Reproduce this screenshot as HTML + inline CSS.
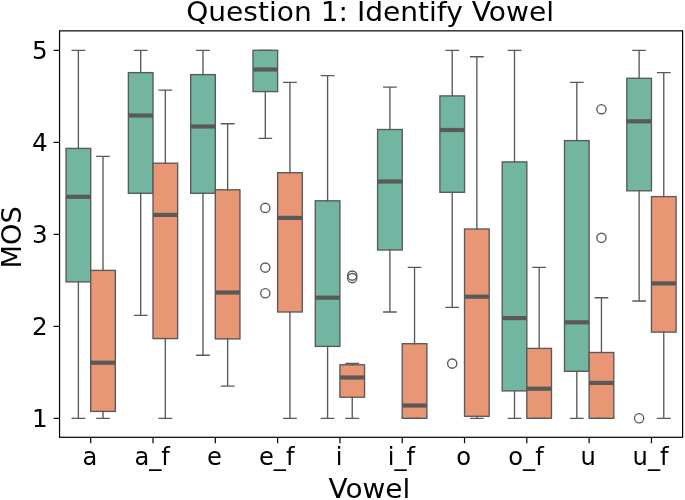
<!DOCTYPE html>
<html lang="en"><head><meta charset="utf-8"><title>Question 1: Identify Vowel</title>
<style>html,body{margin:0;padding:0;background:#fff;overflow:hidden}svg{display:block}text{font-family:"DejaVu Sans","Liberation Sans",sans-serif;fill:#000}</style></head><body>
<svg width="685" height="500" viewBox="0 0 685 500">
<rect width="685" height="500" fill="#fff"/>
<g>
<rect x="66.06" y="148.4" width="24.64" height="133.5" fill="#72b6a1" stroke="#595959" stroke-width="1.35"/>
<path d="M78.38 148.4V50.3M78.38 281.9V418.3M72.18 50.3H84.58M72.18 418.3H84.58" fill="none" stroke="#595959" stroke-width="1.35" stroke-linecap="square"/>
<path d="M66.06 196.8H90.7" stroke="#595959" stroke-width="4.2" fill="none"/>
<rect x="90.7" y="270.4" width="24.64" height="141" fill="#e99675" stroke="#595959" stroke-width="1.35"/>
<path d="M103.02 270.4V156.4M103.02 411.4V418.3M96.82 156.4H109.22M96.82 418.3H109.22" fill="none" stroke="#595959" stroke-width="1.35" stroke-linecap="square"/>
<path d="M90.7 362.7H115.34" stroke="#595959" stroke-width="4.2" fill="none"/>
</g>
<g>
<rect x="128.37" y="72.6" width="24.64" height="120.7" fill="#72b6a1" stroke="#595959" stroke-width="1.35"/>
<path d="M140.69 72.6V50.3M140.69 193.3V315.3M134.49 50.3H146.89M134.49 315.3H146.89" fill="none" stroke="#595959" stroke-width="1.35" stroke-linecap="square"/>
<path d="M128.37 115.5H153.01" stroke="#595959" stroke-width="4.2" fill="none"/>
<rect x="153.01" y="163.2" width="24.64" height="175.4" fill="#e99675" stroke="#595959" stroke-width="1.35"/>
<path d="M165.33 163.2V90.1M165.33 338.6V418.3M159.13 90.1H171.53M159.13 418.3H171.53" fill="none" stroke="#595959" stroke-width="1.35" stroke-linecap="square"/>
<path d="M153.01 214.9H177.65" stroke="#595959" stroke-width="4.2" fill="none"/>
</g>
<g>
<rect x="190.67" y="74.6" width="24.64" height="118.7" fill="#72b6a1" stroke="#595959" stroke-width="1.35"/>
<path d="M202.99 74.6V50.3M202.99 193.3V355.2M196.79 50.3H209.19M196.79 355.2H209.19" fill="none" stroke="#595959" stroke-width="1.35" stroke-linecap="square"/>
<path d="M190.67 126.5H215.31" stroke="#595959" stroke-width="4.2" fill="none"/>
<rect x="215.31" y="189.8" width="24.64" height="149.1" fill="#e99675" stroke="#595959" stroke-width="1.35"/>
<path d="M227.63 189.8V123.7M227.63 338.9V386.1M221.43 123.7H233.83M221.43 386.1H233.83" fill="none" stroke="#595959" stroke-width="1.35" stroke-linecap="square"/>
<path d="M215.31 292.5H239.95" stroke="#595959" stroke-width="4.2" fill="none"/>
</g>
<g>
<rect x="252.98" y="50.3" width="24.64" height="41.3" fill="#72b6a1" stroke="#595959" stroke-width="1.35"/>
<path d="M265.3 50.3V50.3M265.3 91.6V138.3M259.1 50.3H271.5M259.1 138.3H271.5" fill="none" stroke="#595959" stroke-width="1.35" stroke-linecap="square"/>
<path d="M252.98 69.5H277.62" stroke="#595959" stroke-width="4.2" fill="none"/>
<circle cx="265.3" cy="207.9" r="4.6" fill="#fff" fill-opacity="0" stroke="#595959" stroke-width="1.35"/>
<circle cx="265.3" cy="267.6" r="4.6" fill="#fff" fill-opacity="0" stroke="#595959" stroke-width="1.35"/>
<circle cx="265.3" cy="293.2" r="4.6" fill="#fff" fill-opacity="0" stroke="#595959" stroke-width="1.35"/>
<rect x="277.62" y="172.7" width="24.64" height="139.3" fill="#e99675" stroke="#595959" stroke-width="1.35"/>
<path d="M289.94 172.7V82.35M289.94 312V418.3M283.74 82.35H296.14M283.74 418.3H296.14" fill="none" stroke="#595959" stroke-width="1.35" stroke-linecap="square"/>
<path d="M277.62 217.9H302.26" stroke="#595959" stroke-width="4.2" fill="none"/>
</g>
<g>
<rect x="315.28" y="200.8" width="24.64" height="145.6" fill="#72b6a1" stroke="#595959" stroke-width="1.35"/>
<path d="M327.6 200.8V75.6M327.6 346.4V418.3M321.4 75.6H333.8M321.4 418.3H333.8" fill="none" stroke="#595959" stroke-width="1.35" stroke-linecap="square"/>
<path d="M315.28 297.7H339.92" stroke="#595959" stroke-width="4.2" fill="none"/>
<rect x="339.92" y="364.8" width="24.64" height="32.4" fill="#e99675" stroke="#595959" stroke-width="1.35"/>
<path d="M352.24 364.8V363.3M352.24 397.2V418.3M346.04 363.3H358.44M346.04 418.3H358.44" fill="none" stroke="#595959" stroke-width="1.35" stroke-linecap="square"/>
<path d="M339.92 377.5H364.56" stroke="#595959" stroke-width="4.2" fill="none"/>
<circle cx="352.24" cy="275.6" r="4.6" fill="#fff" fill-opacity="0" stroke="#595959" stroke-width="1.35"/>
<circle cx="352.24" cy="278.1" r="4.6" fill="#fff" fill-opacity="0" stroke="#595959" stroke-width="1.35"/>
</g>
<g>
<rect x="377.59" y="129.5" width="24.64" height="120.5" fill="#72b6a1" stroke="#595959" stroke-width="1.35"/>
<path d="M389.91 129.5V87.1M389.91 250V312M383.71 87.1H396.11M383.71 312H396.11" fill="none" stroke="#595959" stroke-width="1.35" stroke-linecap="square"/>
<path d="M377.59 181.5H402.23" stroke="#595959" stroke-width="4.2" fill="none"/>
<rect x="402.23" y="343.7" width="24.64" height="74.6" fill="#e99675" stroke="#595959" stroke-width="1.35"/>
<path d="M414.55 343.7V267.3M414.55 418.3V418.3M408.35 267.3H420.75M408.35 418.3H420.75" fill="none" stroke="#595959" stroke-width="1.35" stroke-linecap="square"/>
<path d="M402.23 405.5H426.87" stroke="#595959" stroke-width="4.2" fill="none"/>
</g>
<g>
<rect x="439.89" y="95.9" width="24.64" height="96.4" fill="#72b6a1" stroke="#595959" stroke-width="1.35"/>
<path d="M452.21 95.9V50.3M452.21 192.3V307.3M446.01 50.3H458.41M446.01 307.3H458.41" fill="none" stroke="#595959" stroke-width="1.35" stroke-linecap="square"/>
<path d="M439.89 130H464.53" stroke="#595959" stroke-width="4.2" fill="none"/>
<circle cx="452.21" cy="363.6" r="4.6" fill="#fff" fill-opacity="0" stroke="#595959" stroke-width="1.35"/>
<rect x="464.53" y="229" width="24.64" height="187.3" fill="#e99675" stroke="#595959" stroke-width="1.35"/>
<path d="M476.85 229V56.7M476.85 416.3V418.3M470.65 56.7H483.05M470.65 418.3H483.05" fill="none" stroke="#595959" stroke-width="1.35" stroke-linecap="square"/>
<path d="M464.53 296.7H489.17" stroke="#595959" stroke-width="4.2" fill="none"/>
</g>
<g>
<rect x="502.2" y="161.9" width="24.64" height="229" fill="#72b6a1" stroke="#595959" stroke-width="1.35"/>
<path d="M514.52 161.9V50.3M514.52 390.9V418.3M508.32 50.3H520.72M508.32 418.3H520.72" fill="none" stroke="#595959" stroke-width="1.35" stroke-linecap="square"/>
<path d="M502.2 318.1H526.84" stroke="#595959" stroke-width="4.2" fill="none"/>
<rect x="526.84" y="348.4" width="24.64" height="69.9" fill="#e99675" stroke="#595959" stroke-width="1.35"/>
<path d="M539.16 348.4V267.3M539.16 418.3V418.3M532.96 267.3H545.36M532.96 418.3H545.36" fill="none" stroke="#595959" stroke-width="1.35" stroke-linecap="square"/>
<path d="M526.84 388.7H551.48" stroke="#595959" stroke-width="4.2" fill="none"/>
</g>
<g>
<rect x="564.5" y="140.6" width="24.64" height="230.7" fill="#72b6a1" stroke="#595959" stroke-width="1.35"/>
<path d="M576.82 140.6V82.35M576.82 371.3V418.3M570.62 82.35H583.02M570.62 418.3H583.02" fill="none" stroke="#595959" stroke-width="1.35" stroke-linecap="square"/>
<path d="M564.5 322.3H589.14" stroke="#595959" stroke-width="4.2" fill="none"/>
<rect x="589.14" y="352.5" width="24.64" height="65.8" fill="#e99675" stroke="#595959" stroke-width="1.35"/>
<path d="M601.46 352.5V297.7M601.46 418.3V418.3M595.26 297.7H607.66M595.26 418.3H607.66" fill="none" stroke="#595959" stroke-width="1.35" stroke-linecap="square"/>
<path d="M589.14 382.9H613.78" stroke="#595959" stroke-width="4.2" fill="none"/>
<circle cx="601.46" cy="109.2" r="4.6" fill="#fff" fill-opacity="0" stroke="#595959" stroke-width="1.35"/>
<circle cx="601.46" cy="237.8" r="4.6" fill="#fff" fill-opacity="0" stroke="#595959" stroke-width="1.35"/>
</g>
<g>
<rect x="626.81" y="78.3" width="24.64" height="112.5" fill="#72b6a1" stroke="#595959" stroke-width="1.35"/>
<path d="M639.13 78.3V50.3M639.13 190.8V301M632.93 50.3H645.33M632.93 301H645.33" fill="none" stroke="#595959" stroke-width="1.35" stroke-linecap="square"/>
<path d="M626.81 121.3H651.45" stroke="#595959" stroke-width="4.2" fill="none"/>
<circle cx="639.13" cy="418.3" r="4.6" fill="#fff" fill-opacity="0" stroke="#595959" stroke-width="1.35"/>
<rect x="651.45" y="196.6" width="24.64" height="135.5" fill="#e99675" stroke="#595959" stroke-width="1.35"/>
<path d="M663.77 196.6V72.6M663.77 332.1V418.3M657.57 72.6H669.97M657.57 418.3H669.97" fill="none" stroke="#595959" stroke-width="1.35" stroke-linecap="square"/>
<path d="M651.45 283.4H676.09" stroke="#595959" stroke-width="4.2" fill="none"/>
</g>
<rect x="59.55" y="30.85" width="623.05" height="406.45" fill="none" stroke="#000" stroke-width="1.2"/>
<path d="M58.95 418.3h-5.3M58.95 326.3h-5.3M58.95 234.3h-5.3M58.95 142.3h-5.3M58.95 50.3h-5.3M90.7 437.9v5.3M153.01 437.9v5.3M215.31 437.9v5.3M277.62 437.9v5.3M339.92 437.9v5.3M402.23 437.9v5.3M464.53 437.9v5.3M526.84 437.9v5.3M589.14 437.9v5.3M651.45 437.9v5.3" stroke="#000" stroke-width="1.2" fill="none"/>
<text transform="translate(47.6 427.1) scale(1.018 1)" font-size="24.2" text-anchor="end">1</text>
<text transform="translate(47.6 335.1) scale(1.018 1)" font-size="24.2" text-anchor="end">2</text>
<text transform="translate(47.6 243.1) scale(1.018 1)" font-size="24.2" text-anchor="end">3</text>
<text transform="translate(47.6 151.1) scale(1.018 1)" font-size="24.2" text-anchor="end">4</text>
<text transform="translate(47.6 59.1) scale(1.018 1)" font-size="24.2" text-anchor="end">5</text>
<text transform="translate(89.8 465.2) scale(1.0 1)" font-size="24.2" text-anchor="middle">a</text>
<text transform="translate(152.11 465.2) scale(1.0 1)" font-size="24.2" text-anchor="middle">a_f</text>
<text transform="translate(214.41 465.2) scale(1.0 1)" font-size="24.2" text-anchor="middle">e</text>
<text transform="translate(276.72 465.2) scale(1.0 1)" font-size="24.2" text-anchor="middle">e_f</text>
<text transform="translate(339.02 465.2) scale(1.0 1)" font-size="24.2" text-anchor="middle">i</text>
<text transform="translate(401.33 465.2) scale(1.0 1)" font-size="24.2" text-anchor="middle">i_f</text>
<text transform="translate(463.63 465.2) scale(1.0 1)" font-size="24.2" text-anchor="middle">o</text>
<text transform="translate(525.94 465.2) scale(1.0 1)" font-size="24.2" text-anchor="middle">o_f</text>
<text transform="translate(588.24 465.2) scale(1.0 1)" font-size="24.2" text-anchor="middle">u</text>
<text transform="translate(650.55 465.2) scale(1.0 1)" font-size="24.2" text-anchor="middle">u_f</text>
<text transform="translate(369.35 497.9) scale(1.075 1)" font-size="26.0" text-anchor="middle">Vowel</text>
<text transform="translate(370.1 20.6) scale(1.04 1)" font-size="27.0" text-anchor="middle">Question 1: Identify Vowel</text>
<text transform="translate(21.2 237.4) rotate(-90) scale(1.015 1)" font-size="26.8" text-anchor="middle">MOS</text>
</svg></body></html>
